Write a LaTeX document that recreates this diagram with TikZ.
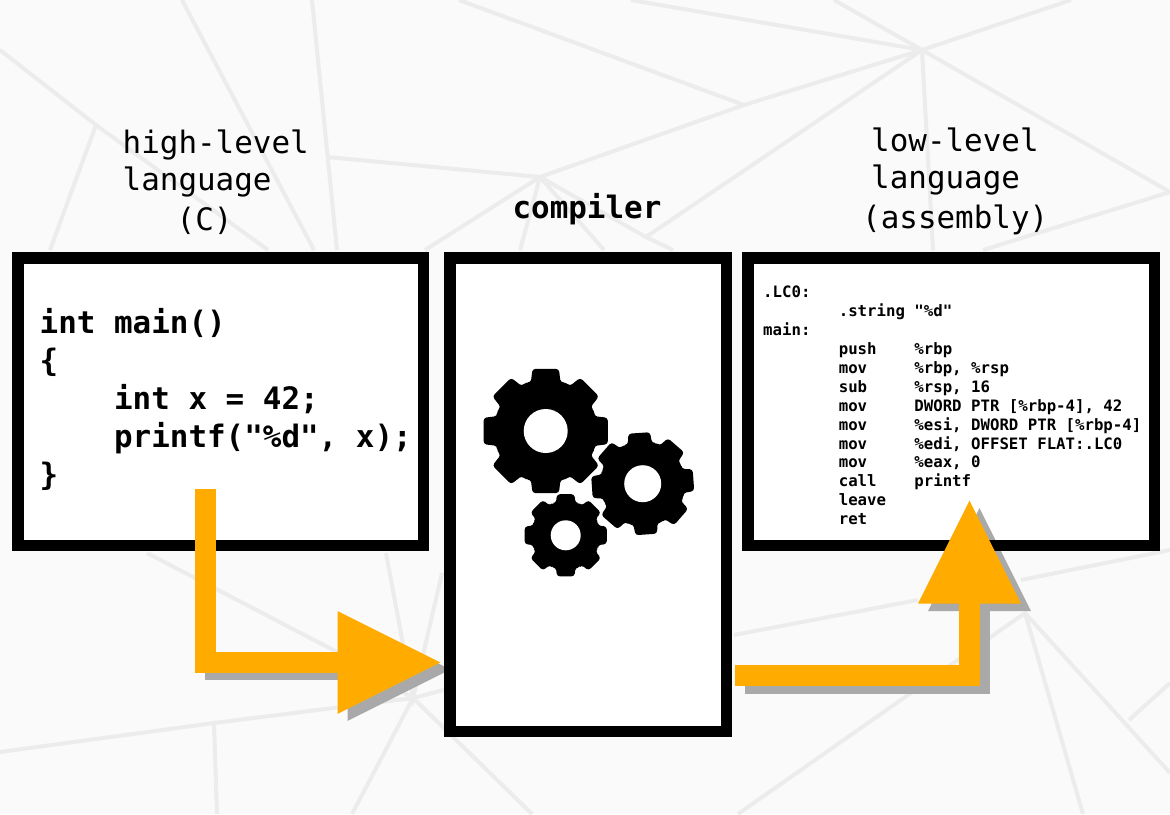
\documentclass[tikz,border=0pt]{standalone}
\usepackage{fontspec}
\setmonofont{DejaVu Sans Mono}
\usetikzlibrary{arrows.meta}
\definecolor{bgpaper}{HTML}{FAFAFA}
\definecolor{bgstroke}{HTML}{ECECEC}
\definecolor{floworange}{HTML}{FFAB00}
\definecolor{dropgray}{HTML}{A9A9A9}
\newcommand{\asmtab}{~~~~~~~~}
\newcommand{\cogwheel}[5]{%
\fill[black, rounded corners=3pt, shift={(#1,#2)}, rotate=#5, scale=#3] (-17:.8)
  \foreach \a in {0,45,...,315} { -- (\a-17:.8) -- (\a-12:1) -- (\a+12:1) -- (\a+17:.8) -- (\a+22.5:.83) } -- cycle;
\fill[white] (#1,#2) circle (#4);}
\tikzset{
  bgline/.style={draw=bgstroke, line width=4pt},
  panel/.style={fill=white, inner sep=0pt, outer sep=0pt},
  panelline/.style={draw=black, line width=11.5pt},
  flowarrow/.style={draw=floworange, line width=21pt, -{Triangle[length=104.5pt,width=96.5pt]}, floworange},
  flowdrop/.style={draw=dropgray, line width=21pt, -{Triangle[length=104.5pt,width=96.5pt]}, dropgray},
  toplabel/.style={inner sep=0pt, align=left, font=\ttfamily\fontsize{30.9}{37}\selectfont},
  codetext/.style={inner sep=0pt, align=left, font=\ttfamily\bfseries\fontsize{30.9}{38}\selectfont},
  asmtext/.style={inner sep=0pt, align=left, font=\ttfamily\bfseries\fontsize{15.7}{18.9}\selectfont},
}
\begin{document}
\begin{tikzpicture}[x=1pt, y=-1pt]
\useasboundingbox (0,0) rectangle (1170,814);
\fill[bgpaper] (0,0) rectangle (1170,814);
\draw[bgline] (0,50) -- (96,125) -- (268,250) (96,125) -- (50,250)
  (182,0) -- (314,250) (312,0) -- (337,250) (327,157) -- (540,177)
  (425,250) -- (540,177) -- (744,105) -- (922,50) -- (1071,0)
  (459,0) -- (744,105) (631,0) -- (922,50) -- (834,0)
  (922,50) -- (646,237) -- (673,250) (540,177) -- (646,237)
  (540,177) -- (604,250) (540,177) -- (520,250)
  (922,50) -- (933,250) (922,50) -- (1170,192) -- (983,250);
\draw[bgline] (0,752) -- (214,723) -- (413,698) -- (444,690)
  (214,723) -- (217,814) (147,553) -- (337,652) -- (413,698)
  (386,553) -- (413,698) -- (442,573) (413,698) -- (352,814) (413,698) -- (532,814)
  (734,635) -- (918,600) (1021,580) -- (1170,550)
  (738,814) -- (1025,613) -- (1083,814) (1025,613) -- (1170,773)
  (1129,720) -- (1170,683);
\node[panel, minimum width=405.5pt, minimum height=287.5pt] (srcbox) at (220.5,401.5) {};
\node[panel, minimum width=276.5pt, minimum height=473.5pt] (compbox) at (588,494.5) {};
\node[panel, minimum width=406.5pt, minimum height=287.5pt] (asmbox) at (951,401.5) {};
\coordinate (srcout) at (205,489);
\coordinate (compin) at (442,662.5);
\coordinate (compout) at (735,675.5);
\coordinate (asmin) at (969.5,499);
\coordinate (srcdrop) at (205,669.5);
\coordinate (compindrop) at (452,669.5);
\coordinate (compoutdrop) at (745,683);
\coordinate (asmindrop) at (979.5,506.5);
\draw[flowdrop] (srcdrop) -- (compindrop);
\draw[flowdrop] (compoutdrop) -| (asmindrop);
\draw[panelline] (srcbox.north west) rectangle (srcbox.south east);
\draw[panelline] (compbox.north west) rectangle (compbox.south east);
\draw[panelline] (asmbox.north west) rectangle (asmbox.south east);
\node[toplabel, anchor=north west] (srclabel) at (122.5,130) {high-level\\language\\[2.5pt]\hspace*{54pt}(C)};
\node[codetext, anchor=center] (complabel) at (587,209.5) {compiler};
\node[toplabel, anchor=north west] (asmlabel) at (862,128) {\hspace*{9pt}low-level\\\hspace*{9pt}language\\[2.5pt](assembly)};
\node[codetext, anchor=west] (srccode) at (39.5,399) {int main()\\\{\\~~~~int x = 42;\\~~~~printf("\%d", x);\\\}};
\node[asmtext, anchor=north west] (asmcode) at (763,286) {.LC0:\\
\asmtab .string "\%d"\\
main:\\
\asmtab push~~~~\%rbp\\
\asmtab mov~~~~~\%rbp, \%rsp\\
\asmtab sub~~~~~\%rsp, 16\\
\asmtab mov~~~~~DWORD PTR [\%rbp-4], 42\\
\asmtab mov~~~~~\%esi, DWORD PTR [\%rbp-4]\\
\asmtab mov~~~~~\%edi, OFFSET FLAT:.LC0\\
\asmtab mov~~~~~\%eax, 0\\
\asmtab call~~~~printf\\
\asmtab leave\\
\asmtab ret};
\cogwheel{545.7}{431}{63.5}{22}{0}
\cogwheel{642.7}{483.7}{52}{18.5}{4}
\cogwheel{565.7}{535.3}{42}{15}{0}
\draw[flowarrow] (srcout) |- (compin);
\draw[flowarrow] (compout) -| (asmin);
\end{tikzpicture}
\end{document}
